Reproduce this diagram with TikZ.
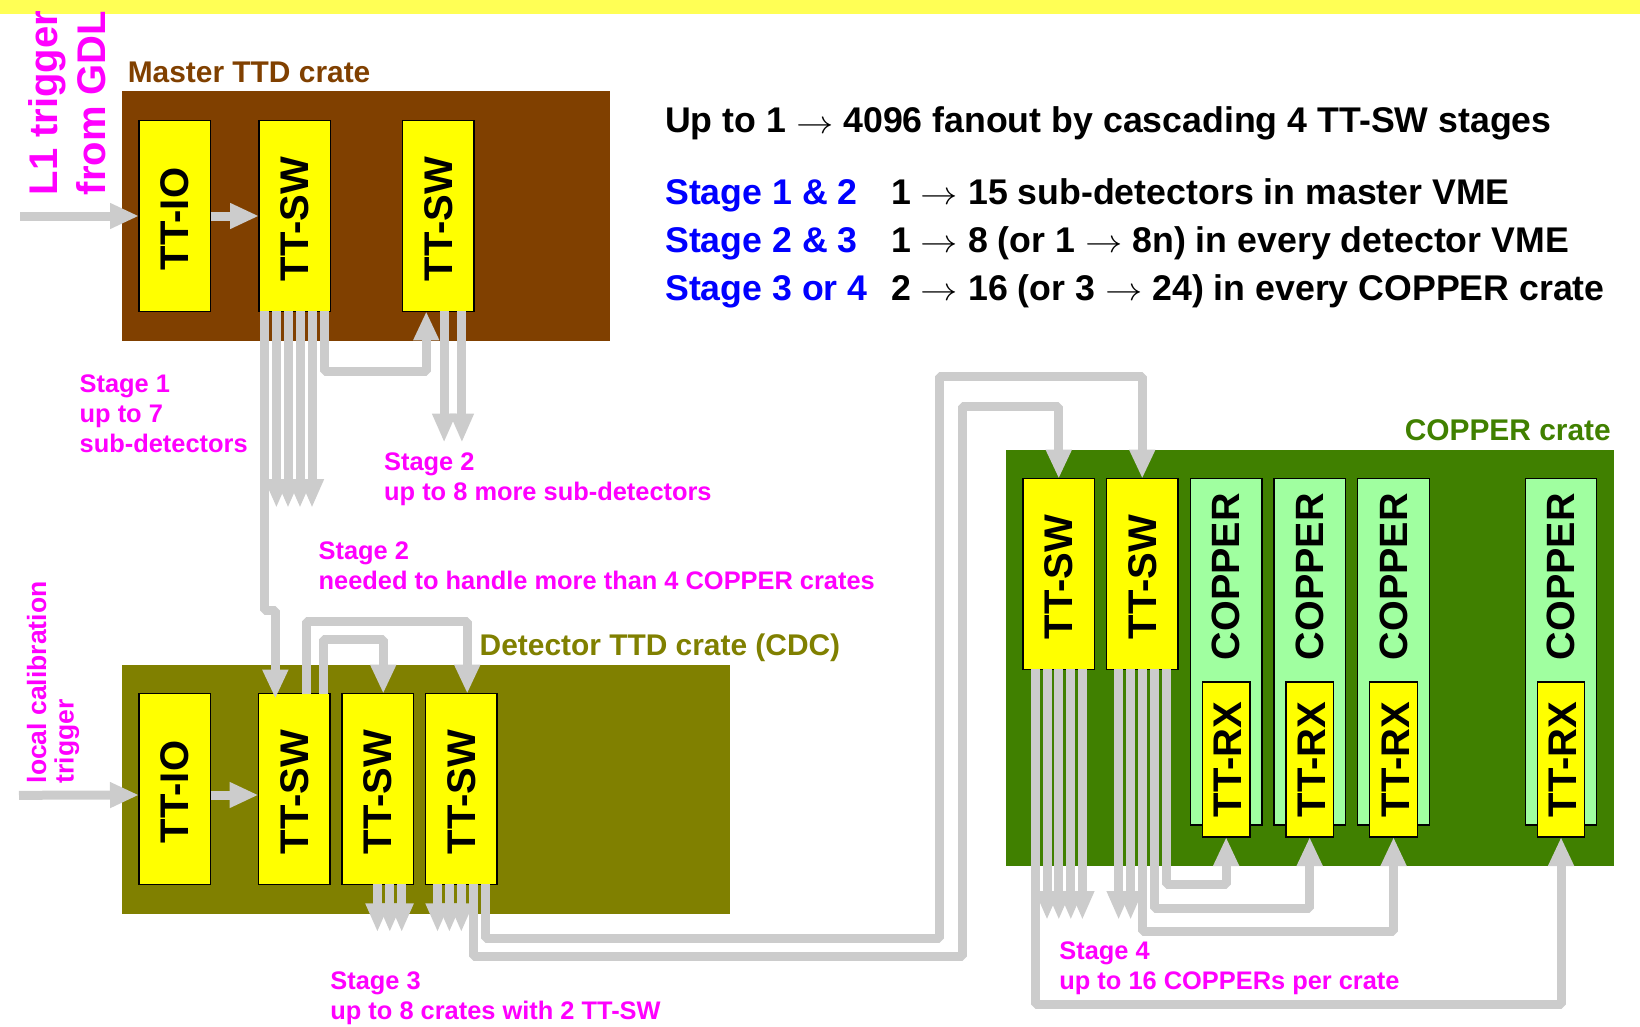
\documentclass[tikz,border=0pt]{standalone}
\usepackage{fontspec}
\setmainfont{Liberation Sans}
\usepackage{tikz}
\usetikzlibrary{arrows.meta,positioning}
\definecolor{band}{HTML}{FFFF55}
\definecolor{master}{HTML}{804000}
\definecolor{detector}{HTML}{808000}
\definecolor{copper}{HTML}{408000}
\definecolor{board}{HTML}{A0FFA0}
\definecolor{wire}{HTML}{CCCCCC}
\definecolor{cardyellow}{HTML}{FFFF00}
\definecolor{notepink}{HTML}{FF00FF}
\definecolor{stageblue}{HTML}{0000FF}
\newcommand{\cardtext}[1]{\rotatebox{90}{#1\hspace{6pt}}}
\newcommand{\rxtext}[1]{\hspace*{4pt}\rotatebox{90}{#1}}
\newcommand{\fanarrow}{\raisebox{-0.5pt}{\scalebox{1.5}[1.3]{$\rightarrow$}}}

\begin{document}
\begin{tikzpicture}[
  x=1pt, y=-1pt,
  crate/.style={anchor=north west, inner sep=0pt, outer sep=0pt},
  card/.style={draw=black, line width=1.2pt, fill=cardyellow, inner sep=0pt, outer sep=0pt,
               minimum width=71.5pt, minimum height=190.6pt,
               font=\fontsize{40}{40}\selectfont\bfseries},
  cubox/.style={card, fill=board, minimum height=346.3pt},
  rxbox/.style={card, minimum width=47.5pt, minimum height=155pt},
  cutext/.style={inner sep=0pt, font=\fontsize{39.5}{40}\selectfont\bfseries},
  link/.style={draw=wire, line width=9pt, line join=bevel,
               -{Triangle[length=29pt,width=24pt]}},
  fan/.style={link, -{Triangle[length=29pt,width=22pt]}},
  cratename/.style={anchor=base west, inner sep=0pt, font=\fontsize{29.9}{30}\selectfont\bfseries},
  note/.style={anchor=base west, inner sep=0pt, align=left, text=notepink,
               font=\fontsize{25.4}{30}\selectfont\bfseries},
  head/.style={anchor=base west, inner sep=0pt, font=\fontsize{35.7}{36}\selectfont\bfseries}
]
\useasboundingbox (0,0) rectangle (1640,1027);
\fill[band] (0,0) rectangle (1640,14);

% Crates
\node[crate, fill=master, minimum width=488pt, minimum height=249.7pt] (mcrate) at (122,91) {};
\node[crate, fill=detector, minimum width=608pt, minimum height=249.3pt] (dcrate) at (122,664.7) {};
\node[crate, fill=copper, minimum width=608pt, minimum height=416pt] (ccrate) at (1006,450) {};
\node[cratename, text=master] (mname) at (127.6,82.7) {Master TTD crate};
\node[cratename, text=detector] (dname) at (479.5,655) {Detector TTD crate (CDC)};
\node[cratename, text=copper, anchor=base east] (cname) at (1611,440.5) {COPPER crate};

% Master crate cards
\node[card, anchor=north west] (mio) at (139,120.7) {\cardtext{TT-IO}};
\node[card, right=48.5pt of mio] (msw) {\cardtext{TT-SW}};
\node[card, right=72pt of msw] (msw2) {\cardtext{TT-SW}};

% Detector crate cards
\node[card, anchor=north west] (dio) at (139,693.7) {\cardtext{TT-IO}};
\node[card, right=48pt of dio] (dsw) {\cardtext{TT-SW}};
\node[card, right=12pt of dsw] (dsw2) {\cardtext{TT-SW}};
\node[card, right=12pt of dsw2] (dsw3) {\cardtext{TT-SW}};

% COPPER crate cards
\node[card, anchor=north west] (csw) at (1023,478.7) {\cardtext{TT-SW}};
\node[card, right=12pt of csw] (csw2) {\cardtext{TT-SW}};
\node[cubox, right=12.4pt of csw2.north east, anchor=north west] (cu) {};
\node[cubox, right=12pt of cu] (cu2) {};
\node[cubox, right=12.4pt of cu2] (cu3) {};
\node[cubox, right=96pt of cu3] (cu4) {};
\node[cutext, below=14.5pt of cu.north] (cut) {\rotatebox{90}{COPPER}};
\node[cutext, below=14.5pt of cu2.north] (cut2) {\rotatebox{90}{COPPER}};
\node[cutext, below=14.5pt of cu3.north] (cut3) {\rotatebox{90}{COPPER}};
\node[cutext, below=14.5pt of cu4.north] (cut4) {\rotatebox{90}{COPPER}};
\node[rxbox, anchor=south] (crx) at ([yshift=-12pt]cu.south) {\rxtext{TT-RX}};
\node[rxbox, anchor=south] (crx2) at ([yshift=-12pt]cu2.south) {\rxtext{TT-RX}};
\node[rxbox, anchor=south] (crx3) at ([yshift=-12pt]cu3.south) {\rxtext{TT-RX}};
\node[rxbox, anchor=south] (crx4) at ([yshift=-12pt]cu4.south) {\rxtext{TT-RX}};

% Free ends
\coordinate (trigm) at (20,216);
\coordinate (trigd) at (19,795.3);
\coordinate (mfan) at (0,508);
\coordinate (mfan2) at (0,442.7);
\coordinate (dfan) at (0,932.3);
\coordinate (cfan) at (0,920);

% Master crate links
\draw[link] (trigm) -- (mio.west);
\draw[link] (mio.east) -- (msw.west);
\draw[link] ([xshift=5.5pt]msw.south west) -- ++(0,299.4) -| ([xshift=-18.9pt,yshift=-5pt]dsw.north);
\draw[fan] ([xshift=17.4pt]msw.south west) -- ([xshift=17.4pt]msw.south west |- mfan);
\draw[fan] ([xshift=29pt]msw.south west) -- ([xshift=29pt]msw.south west |- mfan);
\draw[fan] ([xshift=41pt]msw.south west) -- ([xshift=41pt]msw.south west |- mfan);
\draw[fan] ([xshift=53pt]msw.south west) -- ([xshift=53pt]msw.south west |- mfan);
\draw[link] ([xshift=65pt]msw.south west) -- ++(0,60.4) -| ([xshift=-12pt]msw2.south);
\draw[fan] ([xshift=41.6pt]msw2.south west) -- ([xshift=41.6pt]msw2.south west |- mfan2);
\draw[fan] ([xshift=59.4pt]msw2.south west) -- ([xshift=59.4pt]msw2.south west |- mfan2);

% Detector crate links
\draw[link] (trigd) -- ([yshift=-6pt]dio.west);
\draw[link] ([yshift=-6pt]dio.east) -- ([yshift=-6pt]dsw.west);
\draw[link] ([xshift=47.5pt]dsw.north west) -- ++(0,-72.7) -| ([xshift=6pt]dsw3.north);
\draw[link] ([xshift=65.2pt]dsw.north west) -- ++(0,-54.7) -| ([xshift=5.5pt]dsw2.north);
\draw[fan] ([xshift=35.4pt]dsw2.south west) -- ([xshift=35.4pt]dsw2.south west |- dfan);
\draw[fan] ([xshift=47.8pt]dsw2.south west) -- ([xshift=47.8pt]dsw2.south west |- dfan);
\draw[fan] ([xshift=59.7pt]dsw2.south west) -- ([xshift=59.7pt]dsw2.south west |- dfan);
\draw[fan] ([xshift=12pt]dsw3.south west) -- ([xshift=12pt]dsw3.south west |- dfan);
\draw[fan] ([xshift=23.9pt]dsw3.south west) -- ([xshift=23.9pt]dsw3.south west |- dfan);
\draw[fan] ([xshift=35.8pt]dsw3.south west) -- ([xshift=35.8pt]dsw3.south west |- dfan);
\draw[link] ([xshift=47.8pt]dsw3.south west) -- ++(0,71.7) -- ++(489.6,0) -- ++(0,-549.9) -| (csw.north);
\draw[link] ([xshift=60.2pt]dsw3.south west) -- ++(0,53.7) -- ++(453.6,0) -- ++(0,-561.7) -| (csw2.north);

% COPPER crate links
\draw[link] ([xshift=12pt]csw.south west) -- ++(0,334.9) -| (crx4.south);
\draw[fan] ([xshift=24pt]csw.south west) -- ([xshift=24pt]csw.south west |- cfan);
\draw[fan] ([xshift=35.8pt]csw.south west) -- ([xshift=35.8pt]csw.south west |- cfan);
\draw[fan] ([xshift=47.8pt]csw.south west) -- ([xshift=47.8pt]csw.south west |- cfan);
\draw[fan] ([xshift=59.4pt]csw.south west) -- ([xshift=59.4pt]csw.south west |- cfan);
\draw[fan] ([xshift=12.1pt]csw2.south west) -- ([xshift=12.1pt]csw2.south west |- cfan);
\draw[fan] ([xshift=24.1pt]csw2.south west) -- ([xshift=24.1pt]csw2.south west |- cfan);
\draw[link] ([xshift=35.5pt]csw2.south west) -- ++(0,262.5) -| (crx3.south);
\draw[link] ([xshift=47.5pt]csw2.south west) -- ++(0,239.2) -| (crx2.south);
\draw[link] ([xshift=59.5pt]csw2.south west) -- ++(0,214.9) -| (crx.south);

% Trigger labels
\node[rotate=90, anchor=base west, inner sep=0pt, align=left, text=notepink,
      font=\fontsize{40}{48}\selectfont\bfseries] (l1) at (105,195.5) {L1 trigger\\from GDL};
\node[rotate=90, anchor=base west, inner sep=0pt, align=left, text=notepink,
      font=\fontsize{26.5}{27.5}\selectfont\bfseries] (local) at (73.5,783.5) {local calibration\\trigger};

% Stage labels
\node[note] (s1) at (79.5,452.7) {Stage 1\\up to 7\\sub-detectors};
\node[note] (s2) at (384,500.5) {Stage 2\\up to 8 more sub-detectors};
\node[note] (s2b) at (318.5,589) {Stage 2\\needed to handle more than 4 COPPER crates};
\node[note] (s3) at (330.2,1019) {Stage 3\\up to 8 crates with 2 TT-SW};
\node[note] (s4) at (1059.2,989.5) {Stage 4\\up to 16 COPPERs per crate};

% Summary
\node[head] (title) at (665,132.8) {Up to 1 \fanarrow{} 4096 fanout by cascading 4 TT-SW stages};
\node[head, text=stageblue] (r1) at (665,204.3) {Stage 1 \& 2};
\node[head, text=stageblue] (r2) at (665,252) {Stage 2 \& 3};
\node[head, text=stageblue] (r3) at (665,300) {Stage 3 or 4};
\node[head] (t1) at (891,204.3) {1 \fanarrow{} 15 sub-detectors in master VME};
\node[head] (t2) at (891,252) {1 \fanarrow{} 8 (or 1 \fanarrow{} 8n) in every detector VME};
\node[head] (t3) at (891,300) {2 \fanarrow{} 16 (or 3 \fanarrow{} 24) in every COPPER crate};
\end{tikzpicture}
\end{document}
